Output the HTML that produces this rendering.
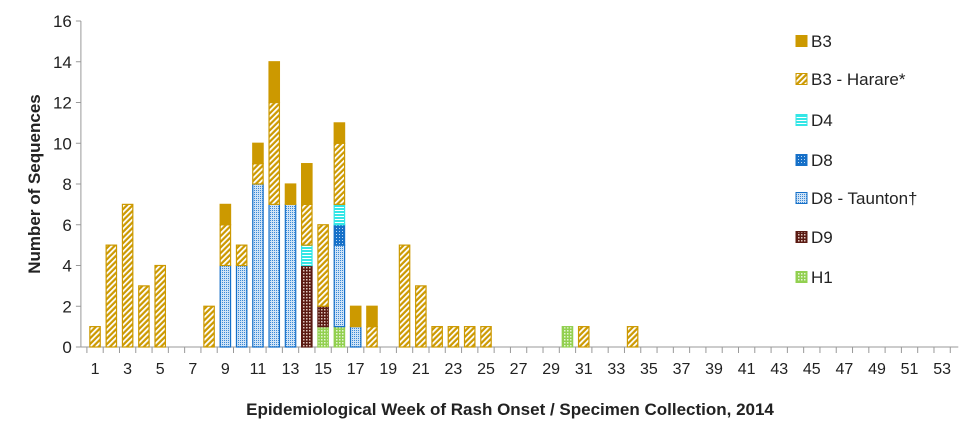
<!DOCTYPE html>
<html><head><meta charset="utf-8"><style>
body{margin:0;background:#fff;}
svg{display:block;font-family:"Liberation Sans",Arial,sans-serif;}
</style></head><body>
<svg id="chart" width="971" height="431" viewBox="0 0 971 431">
<defs>
<pattern id="p-b3h" patternUnits="userSpaceOnUse" width="4" height="4" patternTransform="rotate(45)"><rect width="4" height="4" fill="#CC9900"/><rect width="1.8" height="4" fill="#fff"/></pattern>
<pattern id="p-d4" patternUnits="userSpaceOnUse" width="4" height="3"><rect width="4" height="3" fill="#33E6E6"/><rect width="4" height="1" fill="#fff"/></pattern>
<pattern id="p-d8" patternUnits="userSpaceOnUse" width="3" height="3"><rect width="3" height="3" fill="#1670C8"/><rect width="1" height="1" fill="#bcd8f2"/></pattern>
<pattern id="p-d8t" patternUnits="userSpaceOnUse" width="2" height="2"><rect width="2" height="2" fill="#cfe3f6"/><rect width="1" height="1" fill="#3a88d6"/></pattern>
<pattern id="p-d9" patternUnits="userSpaceOnUse" width="3" height="3"><rect width="3" height="3" fill="#5a1a12"/><rect width="1.5" height="1.5" fill="#e0c8c0"/></pattern>
<pattern id="p-h1" patternUnits="userSpaceOnUse" width="3" height="3"><rect width="3" height="3" fill="#92D050"/><rect width="1.5" height="1.5" fill="#e4f5d4"/></pattern>
</defs>
<g id="plot"></g>
<text transform="translate(40,184) rotate(-90)" text-anchor="middle" font-size="17" font-weight="bold" fill="#222">Number of Sequences</text>
<text x="510" y="415" text-anchor="middle" font-size="17" font-weight="bold" fill="#222">Epidemiological Week of Rash Onset / Specimen Collection, 2014</text>
<g id="legend"></g>
</svg>
<script>
const weeks = Array.from({length:53},(_,i)=>i+1);
const seriesNames = ["H1","D9","D8 - Taunton†","D8","D4","B3 - Harare*","B3"];
const fills = ["url(#p-h1)","url(#p-d9)","url(#p-d8t)","url(#p-d8)","url(#p-d4)","url(#p-b3h)","#CC9900"];
const strokes = ["#92D050","#5a1a12","#1670C8","#1670C8","#33E6E6","#CC9900","#CC9900"];
// values by week number (sparse)
const h1 = {15:1,16:1,30:1};
const d9 = {14:4,15:1};
const d8t = {9:4,10:4,11:8,12:7,13:7,16:4,17:1};
const d8 = {16:1};
const d4 = {14:1,16:1};
const b3h = {1:1,2:5,3:7,4:3,5:4,8:2,9:2,10:1,11:1,12:5,14:2,15:4,16:3,18:1,20:5,21:3,22:1,23:1,24:1,25:1,31:1,34:1};
const b3 = {9:1,11:1,12:2,13:1,14:2,16:1,17:1,18:1};
const yTicks = [0,2,4,6,8,10,12,14,16];
const series = [h1,d9,d8t,d8,d4,b3h,b3];

const NS="http://www.w3.org/2000/svg";
const plot=document.getElementById('plot');
const x0=86.9, step=16.29, y0=347, yTop=21, yMax=16;
const xC=w=>x0+(w-0.5)*step;
const yS=v=>y0-v*(y0-yTop)/yMax;
function mk(tag,attrs,parent){const e=document.createElementNS(NS,tag);for(const k in attrs)e.setAttribute(k,attrs[k]);(parent||plot).appendChild(e);return e;}

const yAxis=mk('line',{x1:x0-6,y1:yS(0),x2:x0-6,y2:yS(yMax),stroke:'#999','stroke-width':1});


yTicks.forEach(t=>{
  const tk=mk('line',{x1:x0-11,x2:x0-6,y1:yS(t),y2:yS(t),stroke:'#999'});
  
  
  const tx=mk('text',{x:x0-15,y:yS(t)+6,'text-anchor':'end','font-size':17,fill:'#222'});
  tx.textContent=t;
  
  
});
const xAxis=mk('line',{x1:x0-6,y1:y0,x2:x0+53*step+8,y2:y0,stroke:'#999'});


for(let i=0;i<=53;i++){
  const tk=mk('line',{x1:x0+i*step,x2:x0+i*step,y1:y0,y2:y0+6,stroke:'#999'});
  
  
}
weeks.forEach(w=>{
  if(w%2===1){
    const tx=mk('text',{x:xC(w),y:y0+27,'text-anchor':'middle','font-size':16,fill:'#222'});
    tx.textContent=w;
    
    
  }
  let acc=0;
  series.forEach((s,si)=>{
    const v=s[w]||0;
    if(!v)return;
    const r=mk('rect',{x:xC(w)-5.2,y:yS(acc+v),width:10.4,height:yS(acc)-yS(acc+v),fill:fills[si],stroke:strokes[si],'stroke-width':1.2});
    
    
    acc+=v;
  });
});
const leg=document.getElementById('legend');
const legY=[41,79,120,160,198,237,277];
for(let i=0;i<7;i++){
  const si=6-i;
  const g=mk('g',{},leg);
  
  
  mk('rect',{x:796,y:legY[i]-5.5,width:11,height:11,fill:fills[si],stroke:strokes[si]},g);
  const t=mk('text',{x:811,y:legY[i]+6,'font-size':17,fill:'#222'},g);
  t.textContent=seriesNames[si];
}
</script>
</body></html>
